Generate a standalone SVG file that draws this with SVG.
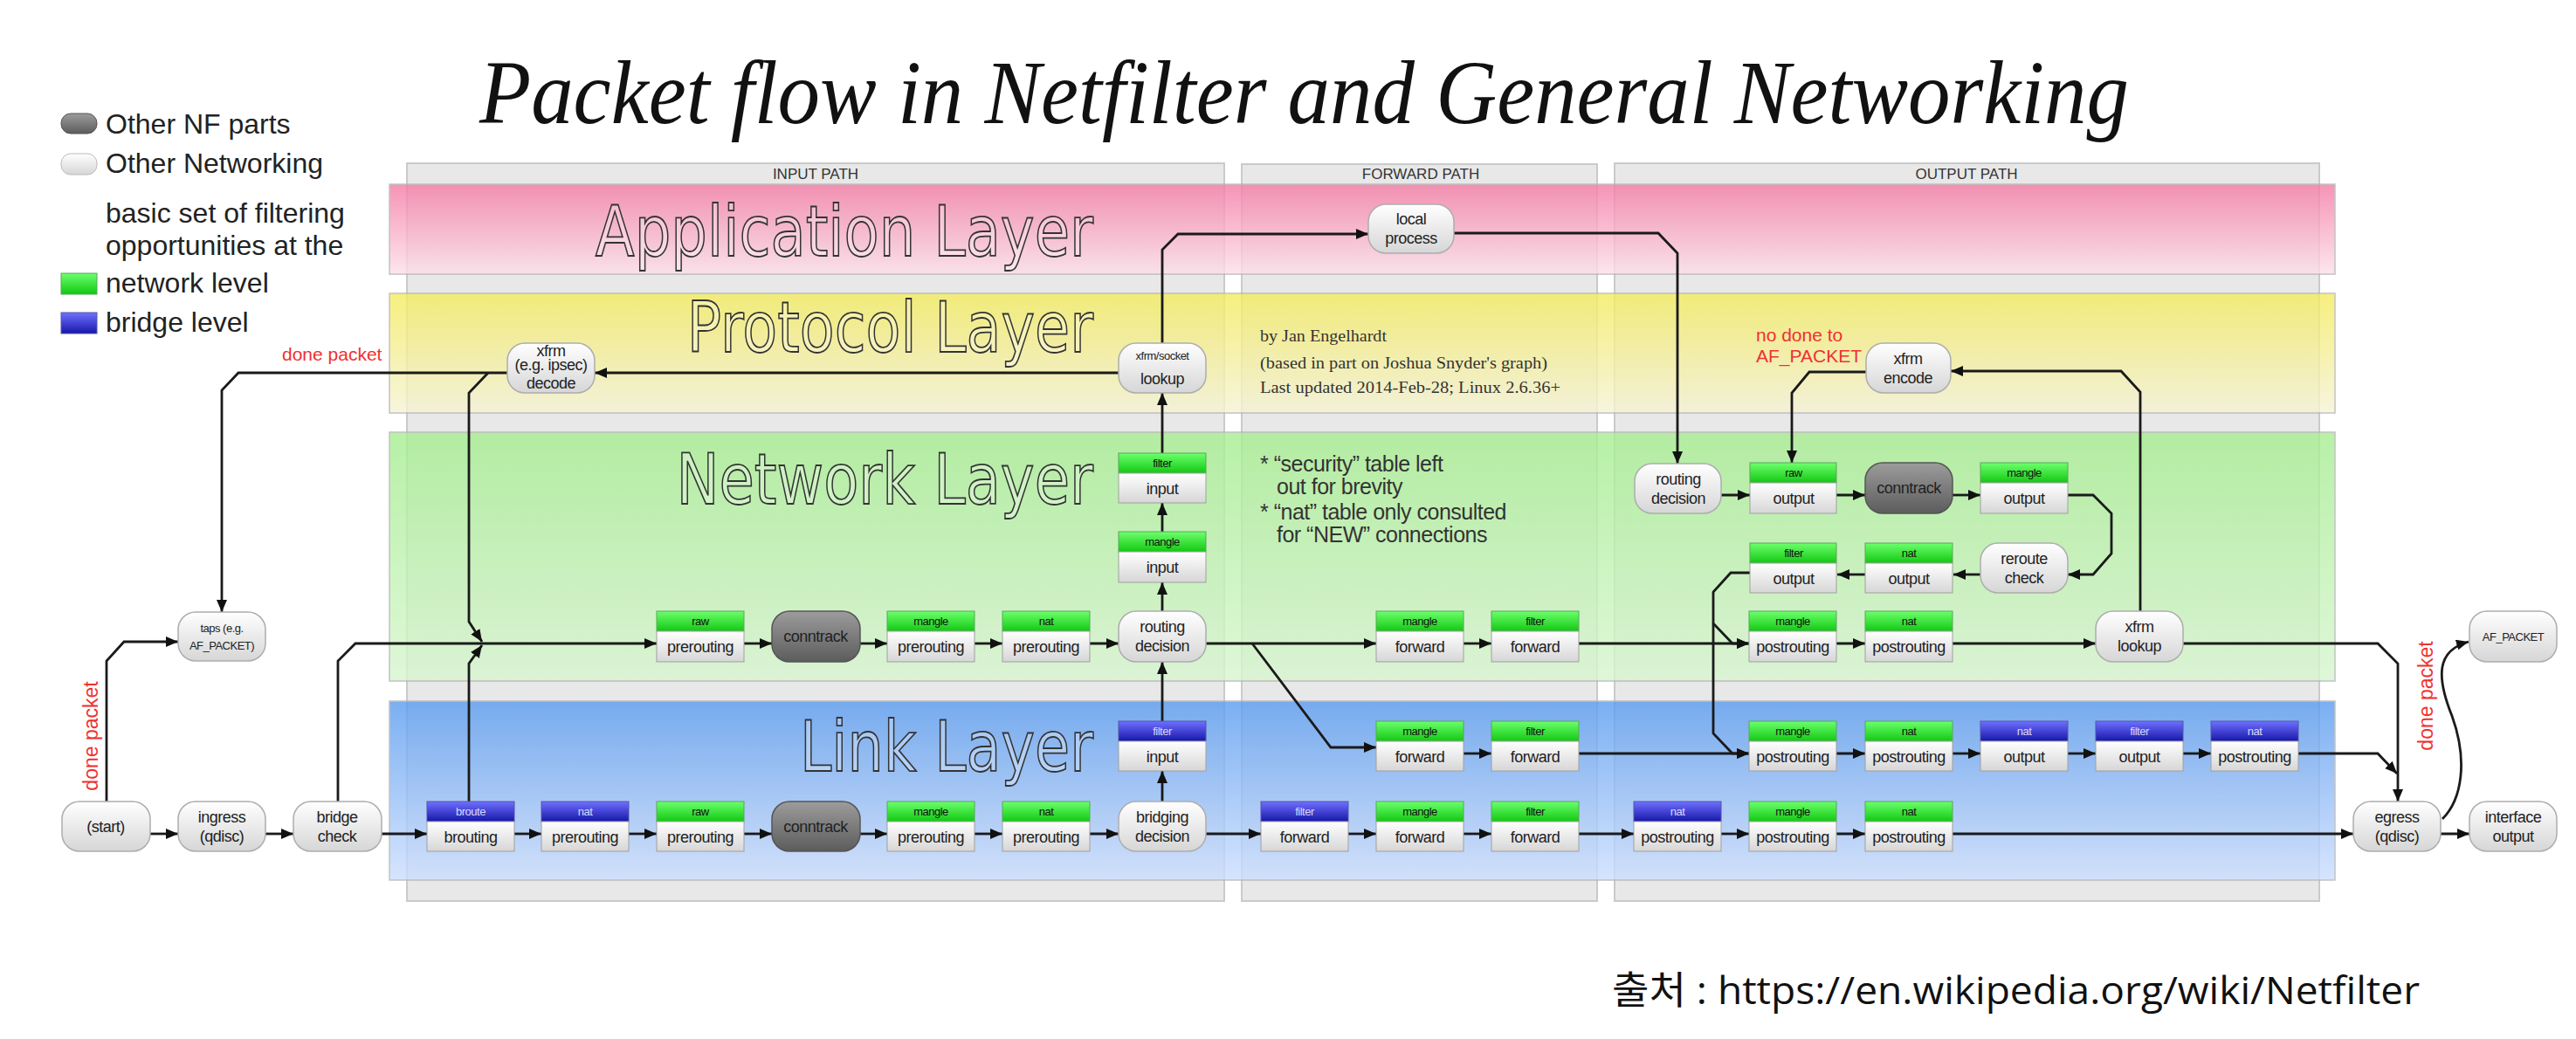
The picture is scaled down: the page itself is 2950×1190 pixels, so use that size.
<svg xmlns="http://www.w3.org/2000/svg" width="2950" height="1190" viewBox="0 0 2950 1190">
<defs>
<linearGradient id="gApp" x1="0" y1="0" x2="0" y2="1"><stop offset="0" stop-color="#f57aa5"/><stop offset="1" stop-color="#fde0ea"/></linearGradient>
<linearGradient id="gProt" x1="0" y1="0" x2="0" y2="1"><stop offset="0" stop-color="#f4ec5e"/><stop offset="1" stop-color="#f6f3d6"/></linearGradient>
<linearGradient id="gNet" x1="0" y1="0" x2="0" y2="1"><stop offset="0" stop-color="#a6ee90"/><stop offset="1" stop-color="#d8f6d0"/></linearGradient>
<linearGradient id="gLink" x1="0" y1="0" x2="0" y2="1"><stop offset="0" stop-color="#5a9cf0"/><stop offset="1" stop-color="#cddfff"/></linearGradient>
<linearGradient id="gNode" x1="0" y1="0" x2="0" y2="1"><stop offset="0" stop-color="#ffffff"/><stop offset="1" stop-color="#d6d6d6"/></linearGradient>
<linearGradient id="gNF" x1="0" y1="0" x2="0" y2="1"><stop offset="0" stop-color="#9c9c9c"/><stop offset="1" stop-color="#5c5c5c"/></linearGradient>
<linearGradient id="gGreen" x1="0" y1="0" x2="0" y2="1"><stop offset="0" stop-color="#6dff6d"/><stop offset="1" stop-color="#12c812"/></linearGradient>
<linearGradient id="gBlue" x1="0" y1="0" x2="0" y2="1"><stop offset="0" stop-color="#7070ff"/><stop offset="1" stop-color="#1616a8"/></linearGradient>
<marker id="ah" markerUnits="userSpaceOnUse" markerWidth="14" markerHeight="12" viewBox="0 0 14 12" refX="14" refY="6" orient="auto"><path d="M0,0 L14,6 L0,12 z" fill="#111"/></marker>
</defs>
<style>
.col{fill:#e8e8e8;stroke:#cacaca;stroke-width:2}
.band{stroke:#b4b4b4;stroke-width:1.5;opacity:.8}
.lay{font-family:"DejaVu Sans","Liberation Sans",sans-serif;font-size:80px;fill:rgba(255,255,255,.3);stroke:#333;stroke-width:1.8;text-anchor:end}
.pl{font-family:"Liberation Sans",Arial,sans-serif;font-size:17px;fill:#333;text-anchor:middle}
.rn{fill:url(#gNode);stroke:#adadad;stroke-width:1.5}
.nf{fill:url(#gNF);stroke:#555;stroke-width:1.5}
.hg{fill:url(#gGreen);stroke:#5a5;stroke-width:1}
.hb{fill:url(#gBlue);stroke:#55a;stroke-width:1}
.bd{fill:url(#gNode);stroke:#a0a0a0;stroke-width:1}
.t{font-family:"Liberation Sans",Arial,sans-serif;font-size:18px;fill:#222;text-anchor:middle;letter-spacing:-0.5px}
.th{font-size:13px;fill:#111}
.tw{font-size:13px;fill:#d8d8ff}
.ts{font-size:13px}
.c{fill:none;stroke:#1a1a1a;stroke-width:2.8;marker-end:url(#ah)}
.lg{font-family:"Liberation Sans",Arial,sans-serif;font-size:32px;fill:#222}
.red{font-family:"Liberation Sans",Arial,sans-serif;fill:#f03030}
.au{font-family:"Liberation Serif","Times New Roman",serif;font-size:18px;fill:#333}
.nt{font-family:"Liberation Sans",Arial,sans-serif;font-size:25px;fill:#333;letter-spacing:-0.5px}
</style>
<rect width="2950" height="1190" fill="#ffffff"/>

<text x="549" y="141" font-family="Liberation Serif,'Times New Roman',serif" font-style="italic" font-size="104" fill="#111" textLength="1889" lengthAdjust="spacingAndGlyphs">Packet flow in Netfilter and General Networking</text>

<g id="legend">
<rect x="70" y="130" width="41" height="23" rx="11" fill="url(#gNF)" stroke="#555"/>
<text class="lg" x="121" y="153">Other NF parts</text>
<rect x="70" y="176" width="41" height="24" rx="11" fill="url(#gNode)" stroke="#bbb"/>
<text class="lg" x="121" y="198">Other Networking</text>
<text class="lg" x="121" y="255">basic set of filtering</text>
<text class="lg" x="121" y="292">opportunities at the</text>
<rect x="70" y="313" width="41" height="24" fill="url(#gGreen)" stroke="#5a5"/>
<text class="lg" x="121" y="335">network level</text>
<rect x="70" y="358" width="41" height="24" fill="url(#gBlue)" stroke="#55a"/>
<text class="lg" x="121" y="380">bridge level</text>
</g>

<g id="columns">
<rect class="col" x="466" y="187" width="936" height="845"/>
<rect class="col" x="1422" y="188" width="407" height="844"/>
<rect class="col" x="1849" y="187" width="807" height="845"/>
<text class="pl" x="934" y="205">INPUT PATH</text>
<text class="pl" x="1627" y="205">FORWARD PATH</text>
<text class="pl" x="2252" y="205">OUTPUT PATH</text>
</g>

<g id="layers">
<rect class="band" x="446" y="211" width="2228" height="103" fill="url(#gApp)"/>
<rect class="band" x="446" y="336" width="2228" height="137" fill="url(#gProt)"/>
<rect class="band" x="446" y="495" width="2228" height="285" fill="url(#gNet)"/>
<rect class="band" x="446" y="803" width="2228" height="205" fill="url(#gLink)"/>
<text class="lay" transform="translate(1252,293) scale(0.82,1)" x="0" y="0">Application Layer</text>
<text class="lay" transform="translate(1252,403) scale(0.815,1)" x="0" y="0">Protocol Layer</text>
<text class="lay" transform="translate(1252,577) scale(0.82,1)" x="0" y="0">Network Layer</text>
<text class="lay" transform="translate(1252,883) scale(0.815,1)" x="0" y="0">Link Layer</text>
</g>

<g id="notes">
<text class="au" x="1443" y="391" textLength="145" lengthAdjust="spacingAndGlyphs">by Jan Engelhardt</text>
<text class="au" x="1443" y="422" textLength="329" lengthAdjust="spacingAndGlyphs">(based in part on Joshua Snyder's graph)</text>
<text class="au" x="1443" y="450" textLength="344" lengthAdjust="spacingAndGlyphs">Last updated 2014-Feb-28; Linux 2.6.36+</text>
<text class="nt" x="1443" y="540">* “security” table left</text>
<text class="nt" x="1462" y="566">out for brevity</text>
<text class="nt" x="1443" y="595">* “nat” table only consulted</text>
<text class="nt" x="1462" y="621">for “NEW” connections</text>
<text class="red" x="323" y="413" font-size="21">done packet</text>
<text class="red" x="2011" y="391" font-size="21">no done to</text>
<text class="red" x="2011" y="415" font-size="21">AF_PACKET</text>
<text class="red" font-size="23" text-anchor="middle" transform="translate(112,843) rotate(-90)">done packet</text>
<text class="red" font-size="23" text-anchor="middle" transform="translate(2786,797) rotate(-90)">done packet</text>
</g>

<g id="connectors">
<path class="c" d="M172,955 H204"/>
<path class="c" d="M304,955 H336"/>
<path class="c" d="M437,955 H489"/>
<path class="c" d="M589,955 H620"/>
<path class="c" d="M720,955 H752"/>
<path class="c" d="M852,955 H884"/>
<path class="c" d="M985,955 H1016"/>
<path class="c" d="M1116,955 H1148"/>
<path class="c" d="M1248,955 H1281"/>
<path class="c" d="M1381,955 H1444"/>
<path class="c" d="M1544,955 H1576"/>
<path class="c" d="M1676,955 H1708"/>
<path class="c" d="M1808,955 H1871"/>
<path class="c" d="M1971,955 H2003"/>
<path class="c" d="M2103,955 H2136"/>
<path class="c" d="M2236,955 H2695"/>
<path class="c" d="M2795,955 H2828"/>
<path class="c" d="M1331,918 V883"/>
<path class="c" d="M1331,826 V758"/>
<path class="c" d="M1331,700 V667"/>
<path class="c" d="M1331,609 V576"/>
<path class="c" d="M1331,519 V450"/>
<path class="c" d="M1331,393 V286 L1349,268 H1567"/>
<path class="c" d="M1281,427 H681"/>
<path class="c" d="M581,427 H273 L254,447 V701"/>
<path class="c" d="M559,427 L537,450 V712 L552,735"/>
<path class="c" d="M537,918 V760 L552,739"/>
<path class="c" d="M122,918 V757 L142,735 H204"/>
<path class="c" d="M387,918 V757 L407,737 H752"/>
<path class="c" d="M852,737 H884"/>
<path class="c" d="M985,737 H1016"/>
<path class="c" d="M1116,737 H1148"/>
<path class="c" d="M1248,737 H1281"/>
<path class="c" d="M1381,737 H1576"/>
<path class="c" d="M1434,737 L1524,856 H1576"/>
<path class="c" d="M1676,737 H1708"/>
<path class="c" d="M1808,737 H2003"/>
<path class="c" d="M2103,737 H2136"/>
<path class="c" d="M2236,737 H2400"/>
<path class="c" d="M2500,737 H2723 L2746,760 V918"/>
<path class="c" d="M2451,700 V449 L2429,425 H2234"/>
<path class="c" d="M2137,426 H2072 L2052,450 V530"/>
<path class="c" d="M1665,267 H1899 L1921,290 V531"/>
<path class="c" d="M1971,567 H2004"/>
<path class="c" d="M2103,567 H2136"/>
<path class="c" d="M2236,567 H2268"/>
<path class="c" d="M2368,567 H2397 L2418,588 V634 L2397,658 H2368"/>
<path class="c" d="M2268,658 H2237"/>
<path class="c" d="M2136,658 H2104"/>
<path class="c" d="M2004,656 H1982 L1962,678 V714 L1984,737 H2003"/>
<path class="c" d="M1962,714 V840 L1984,863 H2003"/>
<path class="c" d="M1676,863 H1708"/>
<path class="c" d="M1808,863 H2003"/>
<path class="c" d="M2103,863 H2136"/>
<path class="c" d="M2236,863 H2268"/>
<path class="c" d="M2368,863 H2400"/>
<path class="c" d="M2500,863 H2532"/>
<path class="c" d="M2632,863 H2723 L2745,886"/>
<path class="c" d="M2797,938 C2820,915 2826,870 2808,820 C2790,775 2790,745 2827,735"/>
</g>

<g id="n-start" transform="translate(71,918)"><rect class="rn" width="101" height="57" rx="20"/><text class="t" x="50" y="35">(start)</text></g>
<g id="n-ingress" transform="translate(204,918)"><rect class="rn" width="100" height="57" rx="20"/><text class="t" x="50" y="24">ingress</text><text class="t" x="50" y="46">(qdisc)</text></g>
<g id="n-bridgecheck" transform="translate(336,918)"><rect class="rn" width="101" height="57" rx="20"/><text class="t" x="50" y="24">bridge</text><text class="t" x="50" y="46">check</text></g>
<g id="n-taps" transform="translate(204,701)"><rect class="rn" width="100" height="56" rx="20"/><text class="t ts" x="50" y="23">taps (e.g.</text><text class="t ts" x="50" y="43">AF_PACKET)</text></g>
<g id="n-bridgingdecision" transform="translate(1281,918)"><rect class="rn" width="100" height="57" rx="20"/><text class="t" x="50" y="24">bridging</text><text class="t" x="50" y="46">decision</text></g>
<g id="n-routingdecision" transform="translate(1281,700)"><rect class="rn" width="100" height="58" rx="20"/><text class="t" x="50" y="24">routing</text><text class="t" x="50" y="46">decision</text></g>
<g id="n-xfrmdecode" transform="translate(581,393)"><rect class="rn" width="100" height="57" rx="20"/><text class="t" x="50" y="15" font-size="14">xfrm</text><text class="t" x="50" y="31" font-size="8">(e.g. ipsec)</text><text class="t" x="50" y="52" font-size="16">decode</text></g>
<g id="n-socketlookup" transform="translate(1281,393)"><rect class="rn" width="100" height="57" rx="20"/><text class="t ts" x="50" y="19">xfrm/socket</text><text class="t" x="50" y="47">lookup</text></g>
<g id="n-localprocess" transform="translate(1567,234)"><rect class="rn" width="98" height="56" rx="20"/><text class="t" x="49" y="23">local</text><text class="t" x="49" y="45">process</text></g>
<g id="n-routingdecision-out" transform="translate(1872,531)"><rect class="rn" width="99" height="57" rx="20"/><text class="t" x="50" y="24">routing</text><text class="t" x="50" y="46">decision</text></g>
<g id="n-reroute" transform="translate(2268,622)"><rect class="rn" width="100" height="57" rx="20"/><text class="t" x="50" y="24">reroute</text><text class="t" x="50" y="46">check</text></g>
<g id="n-xfrmencode" transform="translate(2137,393)"><rect class="rn" width="97" height="57" rx="20"/><text class="t" x="48" y="24">xfrm</text><text class="t" x="48" y="46">encode</text></g>
<g id="n-xfrmlookup" transform="translate(2400,700)"><rect class="rn" width="100" height="58" rx="20"/><text class="t" x="50" y="24">xfrm</text><text class="t" x="50" y="46">lookup</text></g>
<g id="n-afpacket" transform="translate(2828,700)"><rect class="rn" width="100" height="58" rx="20"/><text class="t ts" x="50" y="34">AF_PACKET</text></g>
<g id="n-egress" transform="translate(2695,918)"><rect class="rn" width="100" height="57" rx="20"/><text class="t" x="50" y="24">egress</text><text class="t" x="50" y="46">(qdisc)</text></g>
<g id="n-ifout" transform="translate(2828,918)"><rect class="rn" width="100" height="57" rx="20"/><text class="t" x="50" y="24">interface</text><text class="t" x="50" y="46">output</text></g>

<g id="n-ct-link" transform="translate(884,918)"><rect class="nf" width="101" height="57" rx="20"/><text class="t" x="50" y="35">conntrack</text></g>
<g id="n-ct-net" transform="translate(884,700)"><rect class="nf" width="101" height="58" rx="20"/><text class="t" x="50" y="35">conntrack</text></g>
<g id="n-ct-out" transform="translate(2136,530)"><rect class="nf" width="100" height="58" rx="20"/><text class="t" x="50" y="35">conntrack</text></g>

<g id="t-broute" transform="translate(489,918)"><rect class="hb" width="100" height="23"/><rect class="bd" y="23" width="100" height="34"/><text class="t tw" x="50" y="16">broute</text><text class="t" x="50" y="47">brouting</text></g>
<g id="t-nat-pre-b" transform="translate(620,918)"><rect class="hb" width="100" height="23"/><rect class="bd" y="23" width="100" height="34"/><text class="t tw" x="50" y="16">nat</text><text class="t" x="50" y="47">prerouting</text></g>
<g id="t-raw-pre-l" transform="translate(752,918)"><rect class="hg" width="100" height="23"/><rect class="bd" y="23" width="100" height="34"/><text class="t th" x="50" y="16">raw</text><text class="t" x="50" y="47">prerouting</text></g>
<g id="t-mangle-pre-l" transform="translate(1016,918)"><rect class="hg" width="100" height="23"/><rect class="bd" y="23" width="100" height="34"/><text class="t th" x="50" y="16">mangle</text><text class="t" x="50" y="47">prerouting</text></g>
<g id="t-nat-pre-l" transform="translate(1148,918)"><rect class="hg" width="100" height="23"/><rect class="bd" y="23" width="100" height="34"/><text class="t th" x="50" y="16">nat</text><text class="t" x="50" y="47">prerouting</text></g>
<g id="t-filter-fwd-b" transform="translate(1444,918)"><rect class="hb" width="100" height="23"/><rect class="bd" y="23" width="100" height="34"/><text class="t tw" x="50" y="16">filter</text><text class="t" x="50" y="47">forward</text></g>
<g id="t-mangle-fwd-3" transform="translate(1576,918)"><rect class="hg" width="100" height="23"/><rect class="bd" y="23" width="100" height="34"/><text class="t th" x="50" y="16">mangle</text><text class="t" x="50" y="47">forward</text></g>
<g id="t-filter-fwd-3" transform="translate(1708,918)"><rect class="hg" width="100" height="23"/><rect class="bd" y="23" width="100" height="34"/><text class="t th" x="50" y="16">filter</text><text class="t" x="50" y="47">forward</text></g>
<g id="t-nat-post-b" transform="translate(1871,918)"><rect class="hb" width="100" height="23"/><rect class="bd" y="23" width="100" height="34"/><text class="t tw" x="50" y="16">nat</text><text class="t" x="50" y="47">postrouting</text></g>
<g id="t-mangle-post-3" transform="translate(2003,918)"><rect class="hg" width="100" height="23"/><rect class="bd" y="23" width="100" height="34"/><text class="t th" x="50" y="16">mangle</text><text class="t" x="50" y="47">postrouting</text></g>
<g id="t-nat-post-3" transform="translate(2136,918)"><rect class="hg" width="100" height="23"/><rect class="bd" y="23" width="100" height="34"/><text class="t th" x="50" y="16">nat</text><text class="t" x="50" y="47">postrouting</text></g>

<g id="t-filter-in-b" transform="translate(1281,826)"><rect class="hb" width="100" height="23"/><rect class="bd" y="23" width="100" height="34"/><text class="t tw" x="50" y="16">filter</text><text class="t" x="50" y="47">input</text></g>
<g id="t-mangle-fwd-2" transform="translate(1576,826)"><rect class="hg" width="100" height="23"/><rect class="bd" y="23" width="100" height="34"/><text class="t th" x="50" y="16">mangle</text><text class="t" x="50" y="47">forward</text></g>
<g id="t-filter-fwd-2" transform="translate(1708,826)"><rect class="hg" width="100" height="23"/><rect class="bd" y="23" width="100" height="34"/><text class="t th" x="50" y="16">filter</text><text class="t" x="50" y="47">forward</text></g>
<g id="t-mangle-post-2" transform="translate(2003,826)"><rect class="hg" width="100" height="23"/><rect class="bd" y="23" width="100" height="34"/><text class="t th" x="50" y="16">mangle</text><text class="t" x="50" y="47">postrouting</text></g>
<g id="t-nat-post-2" transform="translate(2136,826)"><rect class="hg" width="100" height="23"/><rect class="bd" y="23" width="100" height="34"/><text class="t th" x="50" y="16">nat</text><text class="t" x="50" y="47">postrouting</text></g>
<g id="t-nat-out-b" transform="translate(2268,826)"><rect class="hb" width="100" height="23"/><rect class="bd" y="23" width="100" height="34"/><text class="t tw" x="50" y="16">nat</text><text class="t" x="50" y="47">output</text></g>
<g id="t-filter-out-b" transform="translate(2400,826)"><rect class="hb" width="100" height="23"/><rect class="bd" y="23" width="100" height="34"/><text class="t tw" x="50" y="16">filter</text><text class="t" x="50" y="47">output</text></g>
<g id="t-nat-post-b2" transform="translate(2532,826)"><rect class="hb" width="100" height="23"/><rect class="bd" y="23" width="100" height="34"/><text class="t tw" x="50" y="16">nat</text><text class="t" x="50" y="47">postrouting</text></g>

<g id="t-raw-pre" transform="translate(752,700)"><rect class="hg" width="100" height="23"/><rect class="bd" y="23" width="100" height="35"/><text class="t th" x="50" y="16">raw</text><text class="t" x="50" y="47">prerouting</text></g>
<g id="t-mangle-pre" transform="translate(1016,700)"><rect class="hg" width="100" height="23"/><rect class="bd" y="23" width="100" height="35"/><text class="t th" x="50" y="16">mangle</text><text class="t" x="50" y="47">prerouting</text></g>
<g id="t-nat-pre" transform="translate(1148,700)"><rect class="hg" width="100" height="23"/><rect class="bd" y="23" width="100" height="35"/><text class="t th" x="50" y="16">nat</text><text class="t" x="50" y="47">prerouting</text></g>
<g id="t-mangle-fwd-1" transform="translate(1576,700)"><rect class="hg" width="100" height="23"/><rect class="bd" y="23" width="100" height="35"/><text class="t th" x="50" y="16">mangle</text><text class="t" x="50" y="47">forward</text></g>
<g id="t-filter-fwd-1" transform="translate(1708,700)"><rect class="hg" width="100" height="23"/><rect class="bd" y="23" width="100" height="35"/><text class="t th" x="50" y="16">filter</text><text class="t" x="50" y="47">forward</text></g>
<g id="t-mangle-post-1" transform="translate(2003,700)"><rect class="hg" width="100" height="23"/><rect class="bd" y="23" width="100" height="35"/><text class="t th" x="50" y="16">mangle</text><text class="t" x="50" y="47">postrouting</text></g>
<g id="t-nat-post-1" transform="translate(2136,700)"><rect class="hg" width="100" height="23"/><rect class="bd" y="23" width="100" height="35"/><text class="t th" x="50" y="16">nat</text><text class="t" x="50" y="47">postrouting</text></g>
<g id="t-mangle-in" transform="translate(1281,609)"><rect class="hg" width="100" height="23"/><rect class="bd" y="23" width="100" height="35"/><text class="t th" x="50" y="16">mangle</text><text class="t" x="50" y="47">input</text></g>
<g id="t-filter-in" transform="translate(1281,519)"><rect class="hg" width="100" height="23"/><rect class="bd" y="23" width="100" height="34"/><text class="t th" x="50" y="16">filter</text><text class="t" x="50" y="47">input</text></g>

<g id="t-raw-out" transform="translate(2004,530)"><rect class="hg" width="99" height="23"/><rect class="bd" y="23" width="99" height="35"/><text class="t th" x="50" y="16">raw</text><text class="t" x="50" y="47">output</text></g>
<g id="t-mangle-out" transform="translate(2268,530)"><rect class="hg" width="100" height="23"/><rect class="bd" y="23" width="100" height="35"/><text class="t th" x="50" y="16">mangle</text><text class="t" x="50" y="47">output</text></g>
<g id="t-nat-out" transform="translate(2136,622)"><rect class="hg" width="100" height="23"/><rect class="bd" y="23" width="100" height="34"/><text class="t th" x="50" y="16">nat</text><text class="t" x="50" y="47">output</text></g>
<g id="t-filter-out" transform="translate(2004,622)"><rect class="hg" width="99" height="23"/><rect class="bd" y="23" width="99" height="34"/><text class="t th" x="50" y="16">filter</text><text class="t" x="50" y="47">output</text></g>

<text x="1846" y="1150" font-family="'Open Sans','Noto Sans CJK KR',sans-serif" font-size="44" fill="#111" textLength="925" lengthAdjust="spacingAndGlyphs">출처 : https://en.wikipedia.org/wiki/Netfilter</text>
</svg>
